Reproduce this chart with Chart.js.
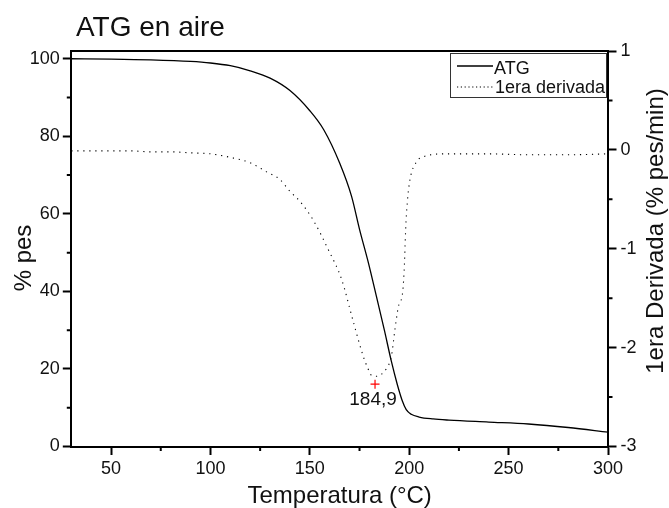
<!DOCTYPE html>
<html>
<head>
<meta charset="utf-8">
<title>ATG en aire</title>
<script src="https://cdn.jsdelivr.net/npm/chart.js@4.4.1/dist/chart.umd.min.js"></script>
<style>
  html, body { margin: 0; padding: 0; background: #fff; }
  canvas { display: block; }
</style>
</head>
<body>
<canvas id="atg-chart" width="669" height="508"></canvas>
<script>
// values
const tempATG = [30, 50, 70, 90, 100, 110, 120, 130, 140, 150, 157, 165, 171, 175, 179.5, 183.5, 187.5, 191, 194, 196.5, 198.5, 201, 205, 212, 220, 240, 260, 280, 300];
const pesATG = [100, 99.9, 99.7, 99.3, 98.9, 98.2, 96.9, 95.0, 91.8, 86.6, 81.7, 73.1, 64.5, 56, 47.3, 38.7, 30, 22, 16, 11.8, 9.5, 8.3, 7.6, 7.1, 6.8, 6.3, 5.8, 4.9, 3.7];

const tempDeriv = [30, 40, 50, 60, 70, 80, 90, 100, 111, 120, 128, 135, 140, 145, 151.7, 159.3, 166, 171.9, 176.9, 179, 181, 183.6, 186, 188.6, 191, 192.8, 194.5, 196.8, 197.6, 198.2, 199, 200.4, 203.7, 207, 219, 240, 260, 280, 300];
const deriv = [-0.01, -0.01, -0.01, -0.01, -0.02, -0.02, -0.03, -0.04, -0.08, -0.13, -0.22, -0.30, -0.42, -0.52, -0.71, -1.01, -1.31, -1.74, -2.09, -2.2, -2.28, -2.29, -2.27, -2.21, -2.09, -1.82, -1.59, -1.42, -1.15, -0.81, -0.54, -0.30, -0.12, -0.07, -0.04, -0.04, -0.05, -0.05, -0.04];

const minTemp = [182.8];
const minDeriv = [-2.37];
const minLabel = ["184,9"];

const seriesNames = ["ATG", "1era derivada"];
const xTicks = [50, 100, 150, 200, 250, 300];
const xMinorTicks = [75, 125, 175, 225, 275];
const yTicks = [0, 20, 40, 60, 80, 100];
const yMinorTicks = [10, 30, 50, 70, 90];
const y1Ticks = [-3, -2, -1, 0, 1];
const y1MinorTicks = [-2.5, -1.5, -0.5, 0.5];

const FONT = "'Liberation Sans', Arial, sans-serif";

const toPoints = (xs, ys) => xs.map((x, i) => ({ x: x, y: ys[i] }));
const setTicks = (list) => (scale) => {
  scale.ticks = list.map((v) => ({ value: v }));
};

const axisBase = (tickList) => ({
  afterBuildTicks: setTicks(tickList),
  grid: {
    display: true,
    drawOnChartArea: false,
    drawTicks: true,
    tickLength: 8.5,
    tickWidth: 2,
    tickColor: "#000",
  },
  border: { display: true, color: "#000", width: 2 },
  ticks: {
    color: "#111",
    font: { family: FONT, size: 18 },
  },
});

// frame, minor ticks, titles, legend, label of the minimum
const extras = {
  id: "extras",
  afterDraw(chart) {
    const { ctx, chartArea: a, scales } = chart;
    ctx.save();
    ctx.strokeStyle = "#000";
    ctx.lineWidth = 2;

    ctx.beginPath();
    ctx.moveTo(a.left - 1, a.top);
    ctx.lineTo(a.right + 1, a.top);
    ctx.stroke();

    ctx.beginPath();
    xMinorTicks.forEach((v) => {
      const px = scales.x.getPixelForValue(v);
      ctx.moveTo(px, a.bottom);
      ctx.lineTo(px, a.bottom + 4.5);
    });
    yMinorTicks.forEach((v) => {
      const py = scales.y.getPixelForValue(v);
      ctx.moveTo(a.left, py);
      ctx.lineTo(a.left - 4.5, py);
    });
    y1MinorTicks.forEach((v) => {
      const py = scales.y1.getPixelForValue(v);
      ctx.moveTo(a.right, py);
      ctx.lineTo(a.right + 4.5, py);
    });
    ctx.stroke();

    ctx.fillStyle = "#111";
    ctx.font = "28px " + FONT;
    ctx.textAlign = "left";
    ctx.textBaseline = "alphabetic";
    ctx.fillText("ATG en aire", 76, 36);

    ctx.font = "24px " + FONT;
    ctx.textAlign = "center";
    ctx.fillText("Temperatura (°C)", (a.left + a.right) / 2, 503);

    ctx.textBaseline = "middle";
    ctx.save();
    ctx.translate(24, 258);
    ctx.rotate(-Math.PI / 2);
    ctx.fillText("% pes", 0, 0);
    ctx.restore();

    ctx.save();
    ctx.translate(656, 231);
    ctx.rotate(-Math.PI / 2);
    ctx.fillText("1era Derivada (% pes/min)", 0, 0);
    ctx.restore();

    // legend
    ctx.lineWidth = 1;
    ctx.strokeStyle = "#333";
    ctx.strokeRect(450.5, 53.5, 156, 44);
    ctx.strokeStyle = "#000";
    ctx.lineWidth = 1.3;
    ctx.beginPath();
    ctx.moveTo(457, 66);
    ctx.lineTo(493, 66);
    ctx.stroke();
    ctx.lineWidth = 1.2;
    ctx.setLineDash([1.2, 2.6]);
    ctx.beginPath();
    ctx.moveTo(457, 87);
    ctx.lineTo(493, 87);
    ctx.stroke();
    ctx.setLineDash([]);
    ctx.font = "18px " + FONT;
    ctx.textAlign = "left";
    ctx.textBaseline = "alphabetic";
    ctx.fillText(seriesNames[0], 494, 74);
    ctx.fillText(seriesNames[1], 495, 93);

    const mx = scales.x.getPixelForValue(minTemp[0]);
    const my = scales.y1.getPixelForValue(minDeriv[0]);
    ctx.font = "19px " + FONT;
    ctx.textAlign = "center";
    ctx.fillText(minLabel[0], mx - 2, my + 21);

    ctx.restore();
  },
};

new Chart(document.getElementById("atg-chart"), {
  type: "line",
  data: {
    datasets: [
      {
        label: seriesNames[0],
        data: toPoints(tempATG, pesATG),
        yAxisID: "y",
        borderColor: "#000",
        borderWidth: 1.3,
        pointRadius: 0,
        cubicInterpolationMode: "monotone",
      },
      {
        label: seriesNames[1],
        data: toPoints(tempDeriv, deriv),
        yAxisID: "y1",
        borderColor: "#000",
        borderWidth: 1.1,
        borderDash: [1.2, 4.8],
        pointRadius: 0,
        cubicInterpolationMode: "monotone",
      },
      {
        label: "min",
        data: toPoints(minTemp, minDeriv),
        yAxisID: "y1",
        showLine: false,
        pointStyle: "cross",
        pointRadius: 4.5,
        pointBorderColor: "#ff0000",
        pointBorderWidth: 1.2,
      },
    ],
  },
  options: {
    responsive: false,
    animation: false,
    devicePixelRatio: 1,
    layout: { padding: { top: 51, left: 0, right: 0, bottom: 0 } },
    plugins: {
      legend: { display: false },
      tooltip: { enabled: false },
      title: { display: false },
    },
    scales: {
      x: {
        ...axisBase(xTicks),
        type: "linear",
        min: 30,
        max: 300,
        afterFit: (scale) => { scale.height = 61.5; },
        ticks: { ...axisBase(xTicks).ticks, padding: 3, maxRotation: 0 },
      },
      y: {
        ...axisBase(yTicks),
        position: "left",
        min: 0,
        max: 102,
        afterFit: (scale) => { scale.width = 71.3; },
        ticks: { ...axisBase(yTicks).ticks, padding: 3 },
      },
      y1: {
        ...axisBase(y1Ticks),
        position: "right",
        min: -3,
        max: 1,
        afterFit: (scale) => { scale.width = 61; },
        ticks: { ...axisBase(y1Ticks).ticks, padding: 4 },
      },
    },
  },
  plugins: [extras],
});
</script>
</body>
</html>
